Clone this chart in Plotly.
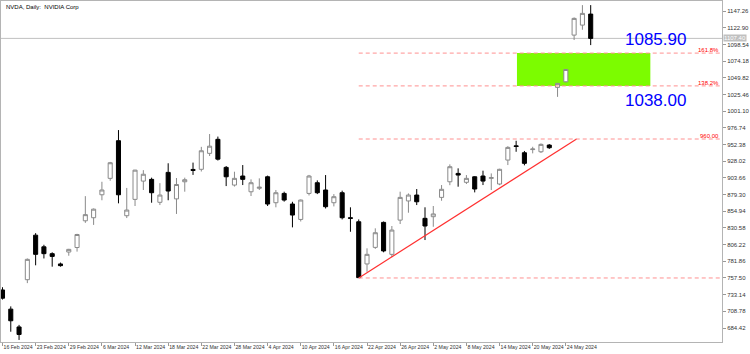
import plotly.graph_objects as go

# ---------------- data ----------------
dates = ["16 Feb 2024", "20 Feb 2024", "21 Feb 2024", "22 Feb 2024", "23 Feb 2024",
         "26 Feb 2024", "27 Feb 2024", "28 Feb 2024", "29 Feb 2024", "1 Mar 2024",
         "4 Mar 2024", "5 Mar 2024", "6 Mar 2024", "7 Mar 2024", "8 Mar 2024",
         "11 Mar 2024", "12 Mar 2024", "13 Mar 2024", "14 Mar 2024", "15 Mar 2024",
         "18 Mar 2024", "19 Mar 2024", "20 Mar 2024", "21 Mar 2024", "22 Mar 2024",
         "25 Mar 2024", "26 Mar 2024", "27 Mar 2024", "28 Mar 2024", "1 Apr 2024",
         "2 Apr 2024", "3 Apr 2024", "4 Apr 2024", "5 Apr 2024", "8 Apr 2024",
         "9 Apr 2024", "10 Apr 2024", "11 Apr 2024", "12 Apr 2024", "15 Apr 2024",
         "16 Apr 2024", "17 Apr 2024", "18 Apr 2024", "19 Apr 2024", "22 Apr 2024",
         "23 Apr 2024", "24 Apr 2024", "25 Apr 2024", "26 Apr 2024", "29 Apr 2024",
         "30 Apr 2024", "1 May 2024", "2 May 2024", "3 May 2024", "6 May 2024",
         "7 May 2024", "8 May 2024", "9 May 2024", "10 May 2024", "13 May 2024",
         "14 May 2024", "15 May 2024", "16 May 2024", "17 May 2024", "20 May 2024",
         "21 May 2024", "22 May 2024", "23 May 2024", "24 May 2024", "28 May 2024",
         "29 May 2024", "30 May 2024"]

opens = [740, 712, 686, 755, 820, 803, 793, 778, 795.4, 802,
         841, 845.5, 879, 903, 958, 848.4, 872.3, 899, 901.5, 868,
         911.7, 873, 898, 916, 916.2, 939.5, 960, 919, 893.2, 906.4,
         883.4, 888.5, 905.3, 867.4, 881, 865.5, 843, 881, 896.6, 886,
         867.4, 882, 845.5, 839.6, 778, 802.2, 838.7, 792, 842, 870,
         878.6, 844.6, 847, 875.2, 898, 910.2, 897.2, 905.3, 906.4, 903,
         894.7, 929.7, 950.5, 940.4, 945, 941.8, 951.6, 1035.9, 1044, 1112.2,
         1126.8, 1142.9]
highs = [744, 716, 689, 786, 823, 806, 795, 780, 800, 822,
         877, 859, 898, 927, 973.5, 889, 915.5, 915, 904, 896,
         925, 903.5, 904, 926, 949, 967.7, 964, 921, 912.7, 922.4,
         901.5, 903, 907, 886, 883.5, 868.8, 872, 908, 900, 907.8,
         880, 885, 860.7, 843, 800.8, 830, 840, 833.4, 883.5, 881,
         887.4, 860.7, 862.6, 893.2, 923.4, 917.6, 907.8, 906, 914.2, 910.2,
         917, 950, 957.9, 943, 949.1, 954, 953, 1042, 1062.5, 1138,
         1156, 1156]
lows = [726, 679, 667, 750, 776, 786, 774, 774, 790, 796,
        838, 835, 871, 899.5, 866.5, 845, 862.6, 886, 867.4, 864,
        871, 851, 883.5, 908, 913, 935.6, 929, 891.7, 891, 893.2,
        877.2, 886, 862.6, 860.7, 869, 831.4, 840, 878, 880, 859,
        862, 843, 825, 757.5, 766.6, 800, 795, 788, 836.3, 852.8,
        864, 812.9, 832.3, 870.3, 893, 890.8, 894.7, 882.5, 893.2, 885.9,
        893, 922.4, 941.8, 922, 939.5, 940, 946, 1022, 1043, 1105,
        1120, 1097.6]
closes = [728, 695, 675, 784.7, 792, 793, 789, 775.5, 799.3, 821,
          850, 858, 886, 925.8, 879, 856.7, 915, 909, 882, 878.6,
          884.5, 894, 901, 914.5, 943.3, 950, 931, 905.3, 903, 901.5,
          896.6, 890, 865.5, 882, 871.3, 849.4, 871.3, 906.4, 882, 861.6,
          876.2, 845.5, 844.6, 758, 792, 823.6, 797, 827.5, 875.2, 878.6,
          868.8, 833.4, 851, 887, 920, 907.8, 903, 887.4, 899, 904,
          916.2, 948.2, 949.5, 924.9, 945.8, 952.6, 947.7, 1041.7, 1062, 1136.6,
          1143.9, 1107.4]

y_tick_values = [684.42, 708.78, 733.14, 757.50, 781.86, 806.22, 830.58, 854.94,
                 879.30, 903.66, 928.02, 952.38, 976.74, 1001.10, 1025.46,
                 1049.82, 1074.18, 1098.54, 1122.90, 1147.26]
x_tick_every = 4

# Fibonacci expansion / drawing objects (price levels, bar positions)
fib_low = 757.50
fib_high = 960.47
fib_high_label = "960.00"
fib_start_bar = 43
fib_ratios = [1.382, 1.618]
fib_ratio_labels = ["138.2%", "161.8%"]
target_labels = ["1038.00", "1085.90"]
trend_x = [43, 69.3]
trend_y = [757.5, 960.5]
target_box_x = [62.1, 78.2]
target_label_x = 82.7

x_range = [-0.18, 86.85]
y_range = [664, 1162]

# ---------------- figure ----------------
idx = list(range(len(dates)))
fig = go.Figure()

fig.add_trace(go.Candlestick(
    x=idx, open=opens, high=highs, low=lows, close=closes,
    increasing=dict(line=dict(color="#8a8a8a", width=1), fillcolor="#ffffff"),
    decreasing=dict(line=dict(color="#000000", width=1), fillcolor="#000000"),
    hoverinfo="skip", showlegend=False,
))

fig.add_trace(go.Scatter(
    x=trend_x, y=trend_y, mode="lines",
    line=dict(color="#ff3030", width=1.2), hoverinfo="skip", showlegend=False,
))

levels = [fib_low + r * (fib_high - fib_low) for r in fib_ratios]
t138, t161 = levels

shapes = []
shapes.append(dict(type="rect", xref="x", yref="y",
                   x0=target_box_x[0], x1=target_box_x[1], y0=t138, y1=t161,
                   fillcolor="#7cfc00", line=dict(width=0), layer="below"))
for lv in [fib_low, fib_high] + levels:
    shapes.append(dict(type="line", xref="x", yref="y",
                       x0=fib_start_bar, x1=x_range[1], y0=lv, y1=lv,
                       line=dict(color="#ff9090", width=1, dash="4px,3px")))
last_close = closes[-1]
shapes.append(dict(type="line", xref="paper", yref="y", x0=0, x1=1,
                   y0=last_close, y1=last_close,
                   line=dict(color="#c0c0c0", width=1), layer="below"))

annotations = []
annotations.append(dict(xref="paper", yref="paper", x=0, y=1, xanchor="left", yanchor="top",
                        xshift=3, yshift=-1, showarrow=False,
                        text="NVDA, Daily:  NVIDIA Corp",
                        font=dict(family="Liberation Sans", size=6, color="#000000")))
for lv, lab in zip([fib_high] + levels, [fib_high_label] + fib_ratio_labels):
    annotations.append(dict(xref="paper", yref="y", x=1, y=lv, xanchor="right", yanchor="bottom",
                            xshift=-1, yshift=-2, showarrow=False, text=lab,
                            font=dict(family="Liberation Sans", size=6, color="#ff0000")))
annotations.append(dict(xref="x", yref="y", x=target_label_x, y=t161, xanchor="right",
                        yanchor="bottom", yshift=2, showarrow=False, text=target_labels[1],
                        font=dict(family="Liberation Sans", size=17, color="#0000ff")))
annotations.append(dict(xref="x", yref="y", x=target_label_x, y=t138, xanchor="right",
                        yanchor="top", yshift=-3, showarrow=False, text=target_labels[0],
                        font=dict(family="Liberation Sans", size=17, color="#0000ff")))
annotations.append(dict(xref="paper", yref="y", x=1, y=last_close, xanchor="left",
                        yanchor="middle", xshift=1, showarrow=False, text="%.2f" % last_close,
                        bgcolor="#c0c0c0", borderpad=0,
                        font=dict(family="Liberation Sans", size=6, color="#ffffff")))

tick_idx = idx[::x_tick_every]
fig.update_layout(
    width=750, height=354,
    margin=dict(l=0, r=25, t=1, b=12),
    paper_bgcolor="#ffffff", plot_bgcolor="#ffffff",
    shapes=shapes, annotations=annotations,
    font=dict(family="Liberation Sans", size=6, color="#333333"),
    xaxis=dict(range=x_range, rangeslider=dict(visible=False), showgrid=False, zeroline=False,
               tickmode="array", tickvals=tick_idx, ticktext=[dates[i] for i in tick_idx],
               ticks="outside", ticklen=3, tickcolor="#999999", tickangle=0,
               ticklabelposition="outside right",
               showline=True, mirror=True, linecolor="#b4b4b4", linewidth=1,
               tickfont=dict(size=5.2, color="#333333")),
    yaxis=dict(range=y_range, side="right", showgrid=False, zeroline=False,
               tickmode="array", tickvals=y_tick_values,
               ticktext=["%.2f" % v for v in y_tick_values],
               ticks="outside", ticklen=3, tickcolor="#999999",
               showline=True, mirror=True, linecolor="#b4b4b4", linewidth=1,
               tickfont=dict(size=6, color="#333333")),
    hovermode=False,
)

fig.write_html("out.html")
